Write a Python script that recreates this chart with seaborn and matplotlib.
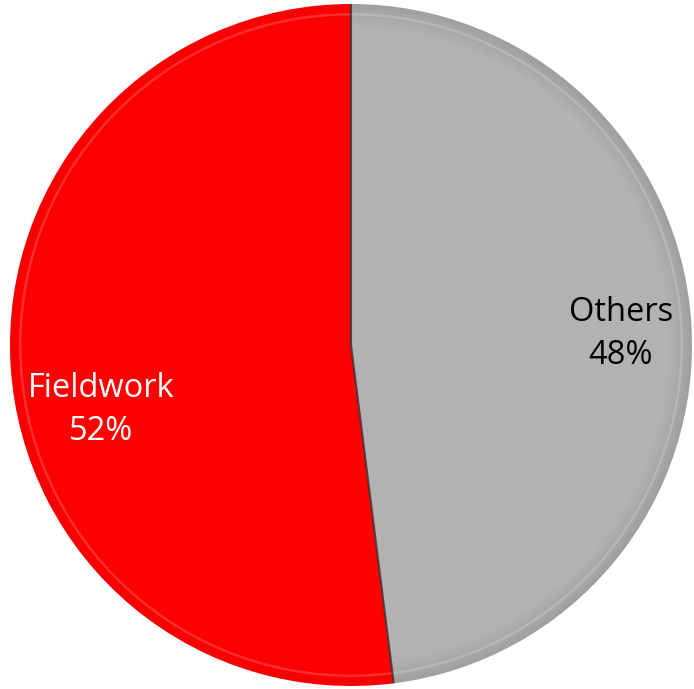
import matplotlib
matplotlib.use("Agg")
import numpy as np
import matplotlib.pyplot as plt
from matplotlib.patches import Wedge
import seaborn as sns

labels = ["Others", "Fieldwork"]
shares = [48, 52]
colors = ["#b2b2b2", "#ff0000"]
text_colors = ["black", "white"]

sns.set_theme(style="white")
plt.rcParams["font.family"] = ["Open Sans", "DejaVu Sans"]

fig = plt.figure(figsize=(6.94, 6.89), dpi=100)
ax = fig.add_axes([0, 0, 1, 1])

cx, cy, R = 351, 344, 341

wedges, _ = ax.pie(shares, colors=colors, startangle=90, counterclock=False,
                   center=(cx, cy), radius=R, frame=True,
                   wedgeprops=dict(linewidth=0))
ax.set_xlim(0, 694)
ax.set_ylim(0, 689)
ax.set_aspect("equal")
ax.axis("off")

# bevel shading along the rim of each slice
rim_strength = [0.10, 0.03]
for w, s in zip(wedges, rim_strength):
    t1, t2 = w.theta1, w.theta2
    steps = 14
    for i in range(steps):
        r_out = R - i * 1.6
        a = s * (steps - i) / steps
        ax.add_patch(Wedge((cx, cy), r_out, t1, t2, width=1.6,
                           facecolor="black", alpha=a, linewidth=0))
    # thin highlight just inside the rim
    ax.add_patch(Wedge((cx, cy), R - 9, t1, t2, width=2.5,
                       facecolor="white", alpha=0.18, linewidth=0))

# dark seam between the two slices
for w in wedges:
    rad = np.deg2rad(w.theta1)
    ax.plot([cx, cx + R * np.cos(rad)], [cy, cy + R * np.sin(rad)],
            color="#333333", lw=1.5, alpha=0.8, solid_capstyle="butt")

# labels inside the slices
label_pos = [(621, 334), (101, 410)]
for lab, val, (x, y), tc in zip(labels, shares, label_pos, text_colors):
    ax.text(x, 689 - y, f"{lab}\n{val}%", ha="center", va="center",
            fontsize=23.5, color=tc, linespacing=1.4)

fig.savefig("out.png", dpi=100)
